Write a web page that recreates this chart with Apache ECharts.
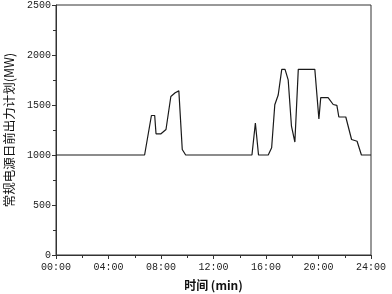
<!DOCTYPE html>
<html><head><meta charset="utf-8">
<script src="https://cdn.jsdelivr.net/npm/echarts@6/dist/echarts.min.js"></script>
<style>html,body{margin:0;padding:0;background:#fff}#c{width:392px;height:294px}</style>
</head><body><div id="c"></div>
<script>
// time in hours, plan output in MW
const hours = [0, 6.75, 7.27, 7.52, 7.62, 8.0, 8.38, 8.75, 9.08, 9.36, 9.62, 9.88,
  14.93, 15.19, 15.43, 16.17, 16.43, 16.67, 16.93, 17.2, 17.45, 17.69, 17.94, 18.2, 18.46,
  19.72, 20.03, 20.17, 20.73, 21.12, 21.4, 21.55, 22.08, 22.52, 22.94, 23.27, 24];
const output = [1000, 1000, 1395, 1395, 1212, 1212, 1255, 1585, 1622, 1641, 1055, 1000,
  1000, 1320, 1000, 1000, 1072, 1502, 1600, 1856, 1856, 1752, 1288, 1130, 1856,
  1856, 1360, 1574, 1574, 1505, 1497, 1380, 1380, 1155, 1138, 1000, 1000];
const yTicks = [0, 500, 1000, 1500, 2000, 2500];
const xName = '时间 (min)';
const yName = '常规电源日前出力计划(MW)';

const chart = echarts.init(document.getElementById('c'));
const labelFont = '"Liberation Mono", "DejaVu Sans Mono", monospace';
chart.setOption({
  animation: false,
  grid: {left: 56, right: 21, top: 5, bottom: 39, show: true, borderColor: '#333', borderWidth: 1,
    containLabel: false, outerBoundsMode: 'none'},
  xAxis: {
    type: 'value', min: 0, max: 24, interval: 4,
    name: xName, nameLocation: 'middle', nameGap: 24,
    nameTextStyle: {fontFamily: '"Noto Sans CJK SC"', fontSize: 12, color: '#111', fontWeight: 'bold'},
    axisLine: {show: true, lineStyle: {color: '#333', width: 1}},
    axisTick: {show: true, length: 4, lineStyle: {color: '#333'}},
    minorTick: {show: true, splitNumber: 2, length: 3, lineStyle: {color: '#333'}},
    splitLine: {show: false},
    axisLabel: {margin: 7, fontFamily: labelFont, fontSize: 10, color: '#222',
      formatter: v => String(v).padStart(2, '0') + ':00'}
  },
  yAxis: {
    type: 'value', min: yTicks[0], max: yTicks[yTicks.length - 1], interval: 500,
    name: yName, nameLocation: 'middle', nameGap: 40,
    nameTextStyle: {fontFamily: '"Noto Sans CJK SC"', fontSize: 12.5, color: '#111'},
    axisLine: {show: true, lineStyle: {color: '#333', width: 1}},
    axisTick: {show: true, length: 4, lineStyle: {color: '#333'}},
    minorTick: {show: true, splitNumber: 2, length: 3, lineStyle: {color: '#333'}},
    splitLine: {show: false},
    axisLabel: {margin: 5, fontFamily: labelFont, fontSize: 10, color: '#222',
      formatter: v => String(v)}
  },
  series: [{
    type: 'line', data: hours.map((h, i) => [h, output[i]]),
    symbol: 'none', lineStyle: {color: '#1a1a1a', width: 1.2}
  }]
});
</script></body></html>
